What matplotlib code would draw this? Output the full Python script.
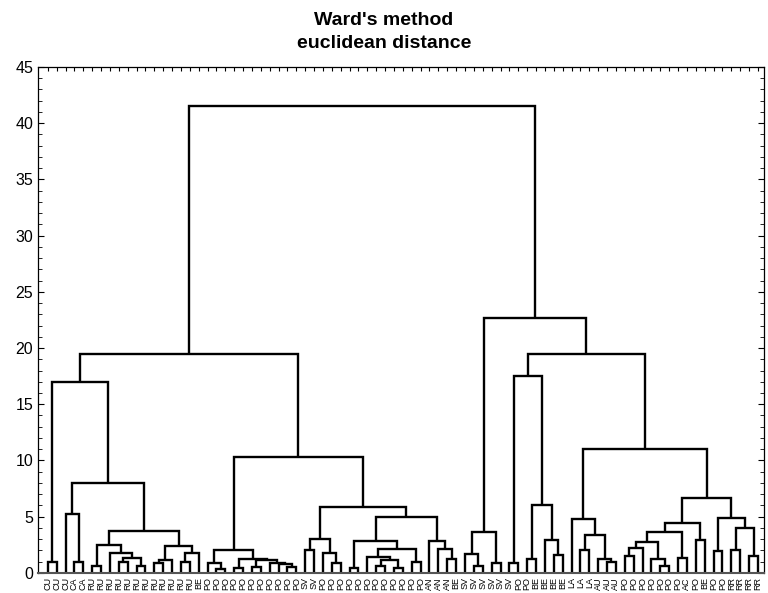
import matplotlib
matplotlib.use('Agg')
import matplotlib.pyplot as plt
from matplotlib.ticker import MultipleLocator

# leaf labels, left to right
labels = (['CU', 'CU', 'CU', 'CA', 'CA'] + ['RU'] * 12 + ['BE'] + ['PO'] * 11 +
          ['SV', 'SV'] + ['PO'] * 12 + ['AN'] * 3 + ['BE'] + ['SV'] * 6 +
          ['PO', 'PO'] + ['BE'] * 4 + ['LA'] * 3 + ['AU'] * 3 + ['PO'] * 7 +
          ['AC', 'PO', 'BE', 'PO', 'PO'] + ['RR'] * 4)

# merges: left child = leaves first..split, right child = split+1..last
node_first = [0, 3, 2, 5, 8, 10, 8, 7, 5, 12, 12, 15, 15, 12, 5, 2, 0,
              19, 18, 21, 23, 27, 26, 25, 23, 21, 18,
              29, 32, 31, 29, 34, 37, 39, 37, 36, 41, 36, 34, 45, 44, 43, 34, 29, 18, 0,
              48, 47, 50, 47, 52, 54, 57, 56, 54, 52, 60, 63, 62, 60, 59,
              65, 65, 69, 68, 65, 71, 65, 73, 65, 75, 77, 79, 77, 75, 65, 59, 52, 47, 0]
node_split = [0, 3, 2, 5, 8, 10, 9, 7, 6, 12, 13, 15, 16, 14, 11, 4, 1,
              19, 18, 21, 23, 27, 26, 25, 24, 22, 20,
              29, 32, 31, 30, 34, 37, 39, 38, 36, 41, 40, 35, 45, 44, 43, 42, 33, 28, 17,
              48, 47, 50, 49, 52, 54, 57, 56, 55, 53, 60, 63, 62, 61, 59,
              65, 66, 69, 68, 67, 71, 70, 73, 72, 75, 77, 79, 78, 76, 74, 64, 58, 51, 46]
node_last = [1, 4, 4, 6, 9, 11, 11, 11, 11, 13, 14, 16, 17, 17, 17, 17, 17,
             20, 20, 22, 24, 28, 28, 28, 28, 28, 28,
             30, 33, 33, 33, 35, 38, 40, 40, 40, 42, 42, 42, 46, 46, 46, 46, 46, 46, 46,
             49, 49, 51, 51, 53, 55, 58, 58, 58, 58, 61, 64, 64, 64, 64,
             66, 67, 70, 70, 70, 72, 72, 74, 74, 76, 78, 80, 80, 80, 80, 80, 80, 80, 80]
node_height = [1.0, 1.0, 5.2, 0.65, 1.0, 0.65, 1.3, 1.75, 2.5, 0.9, 1.1, 1.0, 1.8, 2.4, 3.7, 8.0, 17.0,
               0.35, 0.9, 0.4, 0.55, 0.5, 0.75, 0.9, 1.1, 1.25, 2.0,
               2.05, 0.9, 1.8, 3.0, 0.45, 0.6, 0.4, 1.1, 1.4, 1.0, 2.1, 2.85, 1.2, 2.1, 2.8, 5.0, 5.9, 10.3, 19.5,
               0.65, 1.7, 0.9, 3.6, 0.85, 1.25, 1.6, 2.9, 6.0, 17.5, 2.0, 1.0, 1.25, 3.4, 4.8,
               1.5, 2.2, 0.65, 1.25, 2.7, 1.3, 3.6, 2.9, 4.4, 1.9, 2.0, 1.5, 4.0, 4.9, 6.65, 11.0, 19.5, 22.7, 41.5]

plt.rcParams['font.family'] = ['Liberation Sans', 'DejaVu Sans']

fig = plt.figure(figsize=(7.68, 5.93), dpi=100)
ax = fig.add_axes([0.0495, 0.034, 0.9455, 0.853])

xpos = {}
ypos = {}
for i in range(len(labels)):
    xpos[(i, i)] = i
    ypos[(i, i)] = 0.0

order = sorted(range(len(node_height)), key=lambda k: node_last[k] - node_first[k])
for k in order:
    a, m, b, h = node_first[k], node_split[k], node_last[k], node_height[k]
    xl, yl = xpos[(a, m)], ypos[(a, m)]
    xr, yr = xpos[(m + 1, b)], ypos[(m + 1, b)]
    ax.plot([xl, xl, xr, xr], [yl, h, h, yr], color='black', lw=1.7,
            solid_joinstyle='miter', solid_capstyle='butt')
    xpos[(a, b)] = (xl + xr) / 2
    ypos[(a, b)] = h

ax.set_xlim(-1.1, len(labels) - 1 + 0.7)
ax.set_ylim(0, 45)
ax.yaxis.set_major_locator(MultipleLocator(5))
ax.yaxis.set_minor_locator(MultipleLocator(1))
ax.tick_params(axis='y', which='both', direction='in', right=True, labelsize=11.5)
ax.tick_params(axis='y', which='major', length=4)
ax.tick_params(axis='y', which='minor', length=3)

ax.set_xticks(range(len(labels)))
ax.set_xticklabels(labels, rotation=90, fontsize=6.5)
ax.tick_params(axis='x', which='both', direction='in', top=True, bottom=False,
               length=3, pad=3)

for s in ax.spines.values():
    s.set_linewidth(0.9)
ax.spines['bottom'].set_color('#555555')
ax.spines['bottom'].set_linewidth(1.5)

fig.text(0.5, 1 - 12 / 593, "Ward's method\neuclidean distance", ha='center', va='top',
         fontsize=14, fontweight='bold', linespacing=1.45)

fig.savefig('out.png', dpi=100)
